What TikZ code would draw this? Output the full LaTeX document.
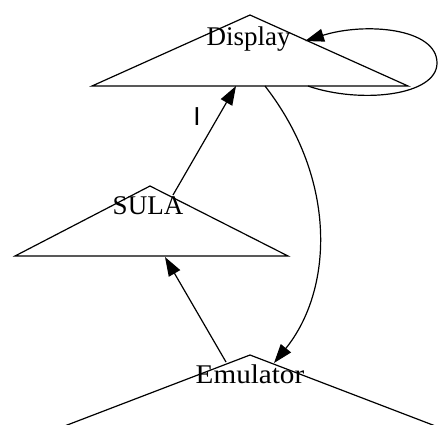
\documentclass[tikz,border=0pt]{standalone}
\usepackage{fontspec}
\setmainfont{Liberation Serif}
\newfontfamily\labelfont{Liberation Sans}
\usetikzlibrary{arrows.meta}
\tikzset{
  shapeline/.style={draw=black, line width=1.2pt, line join=miter},
  edge/.style={draw=black, line width=1.2pt, -{Triangle[length=19pt,width=13pt]}},
  nodetext/.style={inner sep=0pt, anchor=base, font=\fontsize{27}{31}\selectfont},
  edgelabel/.style={inner sep=0pt, font=\labelfont\fontsize{26}{30}\selectfont}
}
\begin{document}
\begin{tikzpicture}[x=1pt,y=-1pt]
\clip (0,0) rectangle (438,424);
\fill[white] (0,0) rectangle (438,424);

% triangles
\draw[shapeline] (92,86) -- (250,15) -- (408,86) -- cycle;
\draw[shapeline] (15,256) -- (150,186) -- (288,256) -- cycle;
\draw[shapeline] (28,440) -- (250,355) -- (472,440);

% labels of the triangles
\node[nodetext] (disp) at (248.5,45) {Display};
\node[nodetext] (sula) at (148,214) {SULA};
\node[nodetext, xscale=1.08] (emu) at (250,383) {Emulator};

% edge end points on the triangle borders
\coordinate (disp-loop-out) at (308,86);
\coordinate (disp-loop-in) at (305,41);
\coordinate (disp-in) at (236,86);
\coordinate (disp-out) at (265,86);
\coordinate (sula-out) at (173,195);
\coordinate (sula-in) at (165,257);
\coordinate (emu-out) at (226,362);
\coordinate (emu-in) at (274,363);

% connectors
\draw[edge] (disp-loop-out) .. controls (360,104) and (437,96) .. (437,63)
            .. controls (437,28) and (365,22) .. (disp-loop-in);
\draw[edge] (sula-out) -- (disp-in);
\draw[edge] (emu-out) -- (sula-in);
\draw[edge] (disp-out) .. controls (338,180) and (333,290) .. (emu-in);

\node[edgelabel] (lbl) at (197,117) {I};
\end{tikzpicture}
\end{document}
